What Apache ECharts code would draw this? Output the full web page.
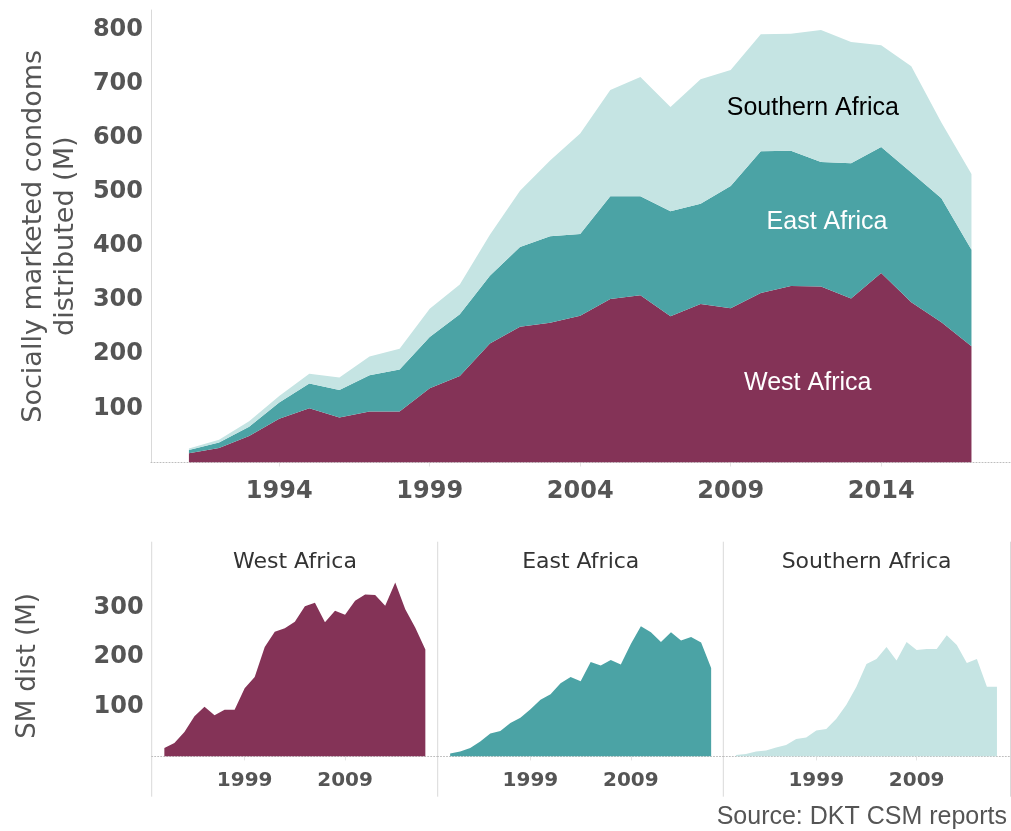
<!DOCTYPE html>
<html>
<head>
<meta charset="utf-8">
<script src="https://cdn.jsdelivr.net/npm/echarts@6/dist/echarts.min.js"></script>
<style>
  html, body { margin: 0; padding: 0; background: #fff; }
  #chart { width: 1011px; height: 831px; }
</style>
</head>
<body>
<div id="chart"></div>
<script>
// data (millions of condoms)
const years = [1991, 1992, 1993, 1994, 1995, 1996, 1997, 1998, 1999, 2000, 2001, 2002, 2003, 2004,
  2005, 2006, 2007, 2008, 2009, 2010, 2011, 2012, 2013, 2014, 2015, 2016, 2017]
const westAfrica = [17, 27, 49, 81, 100, 83, 94, 94, 137, 160, 220, 251, 258, 271,
  302, 309, 270, 293, 285, 313, 326, 325, 303, 350, 296, 259, 215]
const eastAfrica = [6, 10, 17, 30, 46, 51, 67, 78, 95, 114, 125, 147, 160, 151,
  190, 183, 194, 185, 226, 262, 250, 230, 250, 233, 240, 229, 178]
const southernAfrica = [3, 5, 10, 12, 18, 23, 35, 38, 52, 55, 76, 104, 140, 186,
  196, 220, 193, 230, 214, 216, 216, 244, 224, 188, 196, 140, 140]

const regionNames = ['West Africa', 'East Africa', 'Southern Africa']
const regionColors = ['#843357', '#4ba3a5', '#c5e4e3']
const regionValues = [westAfrica, eastAfrica, southernAfrica]

const yearTicks = [1994, 1999, 2004, 2009, 2014]
const smallYearTicks = [1999, 2009]
const totalTicks = [100, 200, 300, 400, 500, 600, 700, 800]
const smallTicks = [100, 200, 300]

const FONT = 'DejaVu Sans'
const GREY = '#555'
const LINE = '#d9d9d9'

// value first so that stacking happens on the y dimension
const pairs = (vals) => years.map((y, i) => [vals[i], y])

const chart = echarts.init(document.getElementById('chart'), null, { renderer: 'canvas' })

const xAxisBase = (gridIndex, ticks, fontSize, margin) => ({
  type: 'value',
  gridIndex,
  min: 1989.74,
  max: 2018.28,
  splitLine: { show: false },
  axisLine: { show: true, lineStyle: { color: '#bdbdbd', type: [1, 2] } },
  axisTick: { show: true, customValues: ticks, length: 4, lineStyle: { color: '#e3e3e3' } },
  axisLabel: {
    customValues: ticks,
    formatter: (v) => String(v),
    color: GREY,
    fontFamily: FONT,
    fontWeight: 'bold',
    fontSize,
    margin,
  },
})

const yAxisBase = (gridIndex, max, ticks, showLabels) => ({
  type: 'value',
  gridIndex,
  min: 0,
  max,
  splitLine: { show: false },
  axisLine: { show: false },
  axisTick: { show: false },
  axisLabel: {
    show: showLabels,
    customValues: ticks,
    color: GREY,
    fontFamily: FONT,
    fontWeight: 'bold',
    fontSize: 24,
    margin: 8,
  },
})

// small multiple panels
const panelLefts = [151.7, 437.5, 723.3]
const panelWidth = 286.5

const smallGrids = panelLefts.map((left) => ({ left, width: panelWidth, top: 541.7, bottom: 74.6 }))

const option = {
  animation: false,
  backgroundColor: '#fff',
  grid: [
    { left: 151, right: 1, top: 10, bottom: 368.5 },
    ...smallGrids,
  ],
  xAxis: [
    xAxisBase(0, yearTicks, 24, 17),
    ...panelLefts.map((_, i) => xAxisBase(i + 1, smallYearTicks, 20, 14)),
  ],
  yAxis: [
    {
      ...yAxisBase(0, 836, totalTicks, true),
      axisLine: { show: true, lineStyle: { color: LINE } },
      name: 'Socially marketed condoms\ndistributed (M)',
      nameLocation: 'middle',
      nameRotate: 90,
      nameGap: 66,
      nameTextStyle: { fontFamily: FONT, fontSize: 27, color: GREY, lineHeight: 32 },
    },
    ...panelLefts.map((_, i) => yAxisBase(i + 1, 432, smallTicks, i === 0)),
  ],
  series: [
    ...regionNames.map((name, i) => ({
      name,
      type: 'line',
      xAxisIndex: 0,
      yAxisIndex: 0,
      stack: 'total',
      encode: { x: 1, y: 0 },
      data: pairs(regionValues[i]),
      symbol: 'none',
      lineStyle: { width: 0 },
      areaStyle: { color: regionColors[i], opacity: 1 },
      itemStyle: { color: regionColors[i] },
    })),
    // area labels inside the stacked chart
    {
      type: 'scatter',
      xAxisIndex: 0,
      yAxisIndex: 0,
      symbol: 'circle',
      symbolSize: 2,
      itemStyle: { color: 'rgba(0,0,0,0)', opacity: 1 },
      silent: true,
      z: 5,
      label: {
        show: true,
        position: 'inside',
        opacity: 1,
        fontFamily: 'Liberation Sans',
        fontSize: 25,
        formatter: (p) => p.name,
      },
      data: [
        { name: 'Southern Africa', value: [2011.73, 655], label: { color: '#000' } },
        { name: 'East Africa', value: [2012.2, 444], label: { color: '#fff' } },
        { name: 'West Africa', value: [2011.56, 147], label: { color: '#fff' } },
      ],
    },
    ...regionNames.map((name, i) => ({
      name: name + ' panel',
      type: 'line',
      xAxisIndex: i + 1,
      yAxisIndex: i + 1,
      encode: { x: 1, y: 0 },
      data: pairs(regionValues[i]),
      symbol: 'none',
      lineStyle: { width: 0 },
      areaStyle: { color: regionColors[i], opacity: 1 },
      itemStyle: { color: regionColors[i] },
    })),
  ],
  graphic: [
    // panel separators
    ...[151.7, 437.7, 723.3, 1010.5].map((x) => ({
      type: 'line',
      silent: true,
      shape: { x1: x, y1: 541.7, x2: x, y2: 796.7 },
      style: { stroke: LINE, lineWidth: 1 },
    })),
    // panel titles
    ...regionNames.map((name, i) => ({
      type: 'text',
      silent: true,
      x: panelLefts[i] + panelWidth / 2,
      y: 562,
      style: {
        text: name,
        fill: '#333',
        font: '22px "DejaVu Sans"',
        textAlign: 'center',
        textVerticalAlign: 'middle',
      },
    })),
    {
      type: 'text',
      silent: true,
      x: 28,
      y: 666,
      rotation: Math.PI / 2,
      style: {
        text: 'SM dist (M)',
        fill: GREY,
        font: '26px "DejaVu Sans"',
        textAlign: 'center',
        textVerticalAlign: 'middle',
      },
    },
    {
      type: 'text',
      silent: true,
      right: 4,
      top: 805,
      style: {
        text: 'Source: DKT CSM reports',
        fill: GREY,
        font: '25px "Liberation Sans"',
      },
    },
  ],
}

chart.setOption(option)
</script>
</body>
</html>
